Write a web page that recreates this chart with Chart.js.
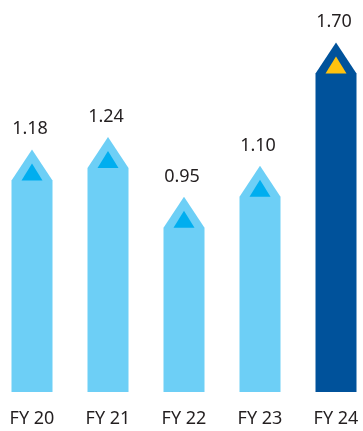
<!DOCTYPE html>
<html>
<head>
<meta charset="utf-8">
<script src="https://cdn.jsdelivr.net/npm/chart.js@4"></script>
<style>
  html, body { margin: 0; padding: 0; background: #fff; }
  #wrap { width: 363px; height: 431px; position: relative; }
</style>
</head>
<body>
<div id="wrap"><canvas id="epsChart"></canvas></div>
<script>
// dados do gráfico
const years = ['FY 20', 'FY 21', 'FY 22', 'FY 23', 'FY 24'];
const values = [1.18, 1.24, 0.95, 1.10, 1.70];
const valueLabels = ['1.18', '1.24', '0.95', '1.10', '1.70'];

const LIGHT = '#6dcff6';
const LIGHT_TRI = '#00aeef';
const DARK = '#00529b';
const DARK_TRI = '#ffc20e';
const FONT = '"Noto Sans", sans-serif';

// desenha as barras em forma de seta (ponta + triângulo interior)
const arrowBars = {
  id: 'arrowBars',
  afterDatasetsDraw(chart) {
    const ctx = chart.ctx;
    const meta = chart.getDatasetMeta(0);
    meta.data.forEach((bar, i) => {
      const last = i === values.length - 1;
      const half = bar.width / 2;
      const tip = bar.y;
      const shoulder = tip + 31;
      ctx.save();
      ctx.fillStyle = last ? DARK : LIGHT;
      ctx.beginPath();
      ctx.moveTo(bar.x, tip);
      ctx.lineTo(bar.x + half, shoulder);
      ctx.lineTo(bar.x + half, bar.base);
      ctx.lineTo(bar.x - half, bar.base);
      ctx.lineTo(bar.x - half, shoulder);
      ctx.closePath();
      ctx.fill();

      // triângulo interior
      ctx.fillStyle = last ? DARK_TRI : LIGHT_TRI;
      ctx.beginPath();
      ctx.moveTo(bar.x, shoulder - 17);
      ctx.lineTo(bar.x + 10.5, shoulder);
      ctx.lineTo(bar.x - 10.5, shoulder);
      ctx.closePath();
      ctx.fill();

      // rótulo do valor
      ctx.fillStyle = '#231f20';
      ctx.font = '18px ' + FONT;
      ctx.textAlign = 'center';
      ctx.textBaseline = 'alphabetic';
      ctx.fillText(valueLabels[i], bar.x - 2, tip - 15);
      ctx.restore();
    });
  }
};

new Chart(document.getElementById('epsChart'), {
  type: 'bar',
  data: {
    labels: years,
    datasets: [{
      data: values,
      backgroundColor: 'rgba(0,0,0,0)',
      barThickness: 41
    }]
  },
  options: {
    responsive: true,
    maintainAspectRatio: false,
    animation: false,
    layout: { padding: { left: 32, right: 27, top: 0, bottom: 0 } },
    plugins: { legend: { display: false }, tooltip: { enabled: false } },
    scales: {
      x: {
        offset: false,
        grid: { display: false, drawTicks: false },
        border: { display: false },
        ticks: { color: '#231f20', font: { family: FONT, size: 18 }, padding: 16, maxRotation: 0 },
        afterFit(scale) {
          scale.height = 39;
          scale.paddingLeft = 0;
          scale.paddingRight = 0;
        }
      },
      y: {
        display: false,
        min: 0,
        max: 392 / 205.6
      }
    }
  },
  plugins: [arrowBars]
});
</script>
</body>
</html>
